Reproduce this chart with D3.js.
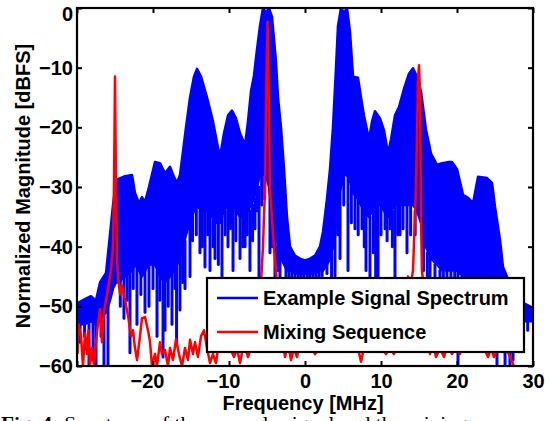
<!DOCTYPE html>
<html>
<head>
<meta charset="utf-8">
<script src="https://cdn.jsdelivr.net/npm/d3@7"></script>
<style>
  html, body { margin: 0; padding: 0; background: #fff; }
  svg { display: block; }
  text { font-family: "Liberation Sans", Arial, Helvetica, sans-serif; font-weight: bold; fill: #000; }
</style>
</head>
<body>
<svg id="chart" width="552" height="421"></svg>
<script>
// ---------------- DATA ----------------
const xTicks = [-30, -20, -10, 0, 10, 20, 30];
const xTickLabels = ["", "\u221220", "\u221210", "0", "10", "20", "30"];
const yTicks = [0, -10, -20, -30, -40, -50, -60];
const yTickLabels = ["0", "\u221210", "\u221220", "\u221230", "\u221240", "\u221250", "\u221260"];

// Example Signal Spectrum: upper and lower envelope of the dense (blue) trace
const blueFreq = [-30.0,-28.95,-28.16,-27.5,-26.97,-26.18,-25.66,-25.26,-24.87,-24.6,-23.68,-22.76,-22.37,-21.84,-21.45,-21.05,-20.53,-19.74,-19.08,-18.42,-17.76,-17.24,-16.84,-16.45,-16.05,-15.66,-15.13,-14.61,-14.21,-13.68,-12.89,-12.11,-11.58,-11.18,-10.66,-10.13,-9.61,-9.08,-8.55,-7.89,-7.5,-7.11,-6.71,-6.32,-5.92,-5.53,-5.13,-4.74,-4.34,-3.82,-3.55,-3.16,-2.76,-2.37,-1.97,-1.32,-0.66,0,0.66,1.32,1.97,2.37,2.89,3.29,3.68,4.08,4.34,4.74,5.13,5.53,5.92,6.32,6.97,7.37,7.76,8.42,8.82,9.21,9.87,10.39,10.92,11.32,11.84,12.37,13.03,13.68,14.21,14.74,15.26,15.92,16.58,17.37,18.03,18.95,19.34,20.0,20.79,21.45,22.11,22.76,23.95,24.61,25.0,25.66,26.05,26.58,27.24,28.03,28.82,29.6,30];
const blueTop = [-49.5,-48.8,-48.3,-49,-46,-44.4,-38,-33,-29,-28.7,-28.2,-28,-31,-32.7,-31.7,-32.5,-30,-25.8,-26,-27.7,-26.6,-28.3,-29.3,-28,-24,-20,-15,-11.5,-10.2,-11.5,-15,-19,-22.5,-25,-21,-18,-17.2,-18.5,-21,-23,-19,-14,-11.3,-7,-3,0,-0.8,0,-1.5,-9,-15,-20,-27,-35,-40,-41.5,-42,-42.3,-42,-41.5,-40,-37.5,-32,-27,-20,-10,-3,0,-0.8,0,-4,-11.5,-11.7,-15,-18,-22,-19,-17.3,-18.5,-20.5,-24.4,-22,-18,-16.6,-13.5,-11,-10.1,-11.5,-14,-20.4,-24.4,-26.3,-26,-25.8,-25.8,-27,-31.3,-31.8,-32.7,-28.3,-28.5,-29.3,-33.3,-38.9,-43.4,-45,-48,-50,-49.5,-50,-50.5];
const blueBottom = [-53,-53,-52.5,-53,-52,-51,-49,-47,-46,-46,-45,-44,-43,-44,-45,-44,-43,-43,-45,-46,-45,-44,-43,-42,-40,-38,-36,-34,-33,-34,-34,-35,-36,-36,-34,-33,-33,-34,-35,-35,-34,-33,-32,-30,-28,-28,-28,-30,-34,-38,-40,-42,-43,-44,-44,-44.5,-44.5,-44.5,-44.5,-44.5,-44,-44,-43,-42,-40,-36,-32,-30,-28,-28,-29,-31,-32,-33,-34,-35,-34,-33,-33,-34,-35,-34,-33,-33,-33,-33,-33,-34,-36,-40,-42,-43,-44,-44,-44,-44,-45,-45,-45,-45,-45,-46,-47,-49,-50,-51,-52.5,-52.5,-52.5,-52.5,-52.5];

// deep notches of the blue trace: frequency, start level, deepest level
const notchFreq = [-29.6,-29.0,-28.42,-27.89,-27.5,-26.84,-26.45,-25.92,-24.3,-23.82,-23.4,-23.03,-22.6,-22.11,-21.6,-21.05,-20.53,-20.0,-19.47,-19.1,-18.68,-18.42,-18.0,-17.5,-17.1,-16.9,-16.45,-16.1,-15.79,-15.13,-14.8,-14.3,-13.82,-13.5,-13.16,-12.8,-12.5,-12.1,-11.84,-11.4,-10.92,-10.5,-10.13,-9.8,-9.47,-9.1,-8.55,-8.2,-7.89,-7.6,-7.24,-6.9,-6.58,-6.3,-6.05,-5.7,-5.3,-4.61,-4.3,-3.95,-3.6,-3.29,-2.5,-2.1,-1.71,-1.3,-0.87,-0.5,-0.13,0.3,0.66,1.05,1.45,1.85,2.24,2.89,3.5,3.95,4.3,4.61,5.1,5.66,6.1,6.58,7.0,7.5,7.8,8.03,8.55,9.0,9.3,9.61,10.0,10.53,10.8,11.18,11.5,11.84,12.2,12.5,12.9,13.42,13.9,14.5,15.6,16.1,16.45,17.1,17.76,18.2,18.68,19.2,19.7,20.13,20.66,21.2,21.71,22.4,23.1,23.68,24.2,24.9,25.26,25.66,26.32,26.97,27.37,28.5,29.3];
const notchFrom = [-52,-52,-52,-52,-52,-51,-51,-50,-45,-45,-44,-44,-43,-43,-44,-44,-43,-43,-44,-45,-45,-46,-45,-44,-43,-43,-42,-40,-39,-36,-34,-33,-34,-34,-34,-34,-34,-35,-35,-36,-35,-34,-33,-33,-33,-34,-35,-35,-35,-34,-34,-33,-32,-30,-30,-28,-28,-30,-34,-37,-40,-41,-43,-44,-44,-44.5,-44.5,-44.5,-44.5,-44.5,-44.5,-44.5,-44.5,-44,-44,-43,-41,-37,-32,-30,-28,-28,-30,-31,-32,-33,-34,-34,-35,-34,-33,-33,-33,-34,-35,-34,-34,-33,-33,-33,-33,-33,-33,-34,-38,-41,-42,-43,-44,-44,-44,-44,-44,-44,-45,-45,-45,-45,-45,-45,-45,-47,-47,-49,-50,-51,-52,-52.5,-52.5];
const notchTo = [-56,-55,-60,-59,-60,-55,-60,-60,-50,-52,-49,-57.8,-47,-53,-48,-51,-50,-47,-55,-49,-58.5,-54,-50,-53,-47,-56,-50.6,-46,-47,-45,-39,-38,-41,-40,-43.4,-38,-44,-40,-42,-43,-45,-38,-40,-37,-44,-39,-42,-40,-40,-38,-44,-39,-37,-34,-45,-33,-32,-41,-40,-45,-44,-46,-46.5,-46,-47,-46.5,-46,-46,-47,-46.5,-46,-46,-47,-46,-46,-44.5,-45,-45,-38,-42,-33,-44,-36,-37,-38,-37,-40,-44,-47,-41,-46,-47,-38,-37,-39,-37,-40,-47,-38,-38,-37,-41,-38,-38,-44,-47,-52,-48,-50,-49,-55,-48,-50,-60,-55,-50,-53,-49,-50,-52,-49,-52,-60,-57,-60,-60,-59,-55,-54];

// Mixing Sequence (red trace)
const redFreq = [-29.93,-29.8,-29.47,-29.21,-28.95,-28.68,-28.49,-28.29,-28.03,-27.76,-27.5,-27.24,-26.97,-26.71,-26.45,-26.05,-25.79,-25.53,-25.26,-25.13,-25.0,-24.87,-24.74,-24.6,-24.34,-24.08,-23.68,-23.29,-22.89,-22.63,-22.37,-22.1,-21.71,-21.45,-21.05,-20.66,-20.39,-20.13,-19.74,-19.47,-19.08,-18.82,-18.42,-18.03,-17.76,-17.37,-16.97,-16.58,-16.18,-15.79,-15.39,-15.13,-14.74,-14.47,-14.08,-13.68,-13.29,-12.89,-12.5,-12.11,-11.71,-11.32,-10.92,-10.39,-9.87,-9.34,-8.95,-8.55,-8.03,-7.5,-7.11,-6.71,-6.32,-6.05,-5.79,-5.53,-5.26,-5.07,-4.93,-4.8,-4.61,-4.21,-3.82,-3.42,-3.03,-2.63,-2.24,-1.84,-1.45,-1.05,-0.66,0,0.66,1.32,1.97,2.63,3.29,3.95,4.61,5.26,5.92,6.58,6.97,7.37,7.76,8.29,8.82,9.47,10.0,10.66,11.18,11.71,12.24,12.76,13.16,13.55,13.82,14.21,14.61,14.87,15.0,15.13,15.26,15.39,15.66,16.05,16.45,16.84,17.24,17.76,18.29,18.82,19.34,19.87,20.39,20.92,21.45,21.97,22.5,23.03,23.55,24.08,24.47,24.87,25.39,25.92,26.45,26.97,27.5,28.03,28.95,30];
const redDb = [-58,-53,-55,-60,-54.5,-58,-54,-60,-57,-60,-56,-53,-50.5,-56,-51,-48,-46,-44,-40,-30,-11.5,-30,-42,-45,-48,-46.5,-49,-51.5,-55,-54,-57,-59,-55,-52,-51.8,-54,-56,-60,-58,-60,-56,-58,-57.3,-60,-57,-59,-55.5,-58,-60,-57,-59,-55.6,-58,-56,-58.5,-55,-54,-57,-59.5,-58,-59.5,-56,-57.5,-56,-57,-58.5,-57,-59.5,-56,-58.5,-57,-56,-52,-49,-46,-40,-30,-12,-2.3,-12,-30,-38,-44,-50,-55,-58.5,-56,-59,-57,-58.5,-56,-57,-56.5,-58,-57,-56,-57.5,-56,-57,-56,-57,-56.5,-57,-59.3,-57,-56,-57,-56,-57,-58,-57,-58,-55,-52,-52,-45,-47,-44,-30,-12,-9.6,-14,-35,-44,-47,-50,-58,-56,-58.5,-57,-58.5,-56,-58,-57,-58,-56,-57,-56,-57,-56,-57,-58.5,-57,-58.5,-57,-56,-57,-58.5,-60,-62,-63,-63];

const legendLabels = ["Example Signal Spectrum", "Mixing Sequence"];
const seriesColors = ["#0000ff", "#ff0000"];
const xTitle = "Frequency [MHz]";
const yTitle = "Normalized Magnitude [dBFS]";
const captionHead = "Fig. 4:";
const captionBody = " Spectrum of the example signal and the mixing sequence";

// ---------------- LAYOUT ----------------
const plot = { left: 77, right: 533, top: 8, bottom: 366 };
const svg = d3.select("#chart");

const x = d3.scaleLinear().domain([-30, 30]).range([plot.left, plot.right]);
const y = d3.scaleLinear().domain([-60, 0]).range([plot.bottom, plot.top]);

svg.append("defs").append("clipPath").attr("id", "clip")
  .append("rect")
  .attr("x", plot.left).attr("y", plot.top)
  .attr("width", plot.right - plot.left).attr("height", plot.bottom - plot.top);

const data = svg.append("g").attr("clip-path", "url(#clip)");

// blue band
const blueRows = blueFreq.map((f, i) => ({ f, t: blueTop[i], b: blueBottom[i] }));
data.append("path")
  .datum(blueRows)
  .attr("d", d3.area().x(d => x(d.f)).y0(d => y(d.b)).y1(d => y(d.t)))
  .attr("fill", seriesColors[0])
  .attr("stroke", seriesColors[0])
  .attr("stroke-width", 2.5)
  .attr("stroke-linejoin", "round");

// blue notches
data.append("g").selectAll("line")
  .data(notchFreq.map((f, i) => ({ f, a: notchFrom[i], b: notchTo[i] })))
  .join("line")
  .attr("x1", d => x(d.f)).attr("x2", d => x(d.f))
  .attr("y1", d => y(d.a)).attr("y2", d => y(d.b))
  .attr("stroke", seriesColors[0])
  .attr("stroke-width", 3)
  .attr("stroke-linecap", "round");

// red trace
data.append("path")
  .datum(redFreq.map((f, i) => ({ f, v: redDb[i] })))
  .attr("d", d3.line().x(d => x(d.f)).y(d => y(d.v)))
  .attr("fill", "none")
  .attr("stroke", seriesColors[1])
  .attr("stroke-width", 2.5)
  .attr("stroke-linejoin", "round");

// ---------------- AXES ----------------
const tickLen = 5;
const fmtX = v => xTickLabels[xTicks.indexOf(v)];
const fmtY = v => yTickLabels[yTicks.indexOf(v)];

const gx = svg.append("g").attr("transform", `translate(0,${plot.bottom})`)
  .call(d3.axisBottom(x).tickValues(xTicks).tickFormat(fmtX).tickSizeInner(-tickLen).tickSizeOuter(0).tickPadding(8));
gx.selectAll("text").attr("font-size", 20).attr("dx", d => d < 0 ? -6 : 0);

const gy = svg.append("g").attr("transform", `translate(${plot.left},0)`)
  .call(d3.axisLeft(y).tickValues(yTicks).tickFormat(fmtY).tickSizeInner(-tickLen).tickSizeOuter(0).tickPadding(4));
gy.selectAll("text").attr("font-size", 20)
  .attr("dy", d => d === 0 ? "0.62em" : "0.32em");

const gxt = svg.append("g").attr("transform", `translate(0,${plot.top})`)
  .call(d3.axisTop(x).tickValues(xTicks).tickFormat("").tickSizeInner(-tickLen).tickSizeOuter(0));
const gyr = svg.append("g").attr("transform", `translate(${plot.right},0)`)
  .call(d3.axisRight(y).tickValues(yTicks).tickFormat("").tickSizeInner(-tickLen).tickSizeOuter(0));

[gx, gy, gxt, gyr].forEach(g => {
  g.select(".domain").remove();
  g.selectAll(".tick line").attr("stroke", "#000").attr("stroke-width", 2);
  g.attr("font-family", null).attr("font-size", null);
});

// frame
svg.append("rect")
  .attr("x", plot.left).attr("y", plot.top)
  .attr("width", plot.right - plot.left).attr("height", plot.bottom - plot.top)
  .attr("fill", "none").attr("stroke", "#000").attr("stroke-width", 2.2);

// titles
svg.append("text")
  .attr("x", 303).attr("y", 410)
  .attr("text-anchor", "middle").attr("font-size", 20)
  .text(xTitle);
svg.append("text")
  .attr("transform", `translate(30,${(plot.top + plot.bottom) / 2 - 1}) rotate(-90)`)
  .attr("text-anchor", "middle").attr("font-size", 20)
  .text(yTitle);

// ---------------- LEGEND ----------------
const lg = svg.append("g");
lg.append("rect")
  .attr("x", 207).attr("y", 278).attr("width", 317).attr("height", 74)
  .attr("fill", "#fff").attr("stroke", "#000").attr("stroke-width", 2.2);
legendLabels.forEach((lab, i) => {
  const ly = 298 + i * 34;
  lg.append("line")
    .attr("x1", 217).attr("x2", 258).attr("y1", ly).attr("y2", ly)
    .attr("stroke", seriesColors[i]).attr("stroke-width", 2.6);
  lg.append("text")
    .attr("x", 263).attr("y", ly + 7)
    .attr("font-size", 20)
    .text(lab);
});

// caption (cut off by the bottom edge, as in the reference)
const cap = svg.append("text")
  .attr("x", 1).attr("y", 430)
  .attr("font-size", 19)
  .style("font-family", "'Liberation Serif', 'Times New Roman', serif")
  .attr("textLength", 550).attr("lengthAdjust", "spacingAndGlyphs");
cap.append("tspan").text(captionHead);
cap.append("tspan").style("font-weight", "normal").text(captionBody);
</script>
</body>
</html>
